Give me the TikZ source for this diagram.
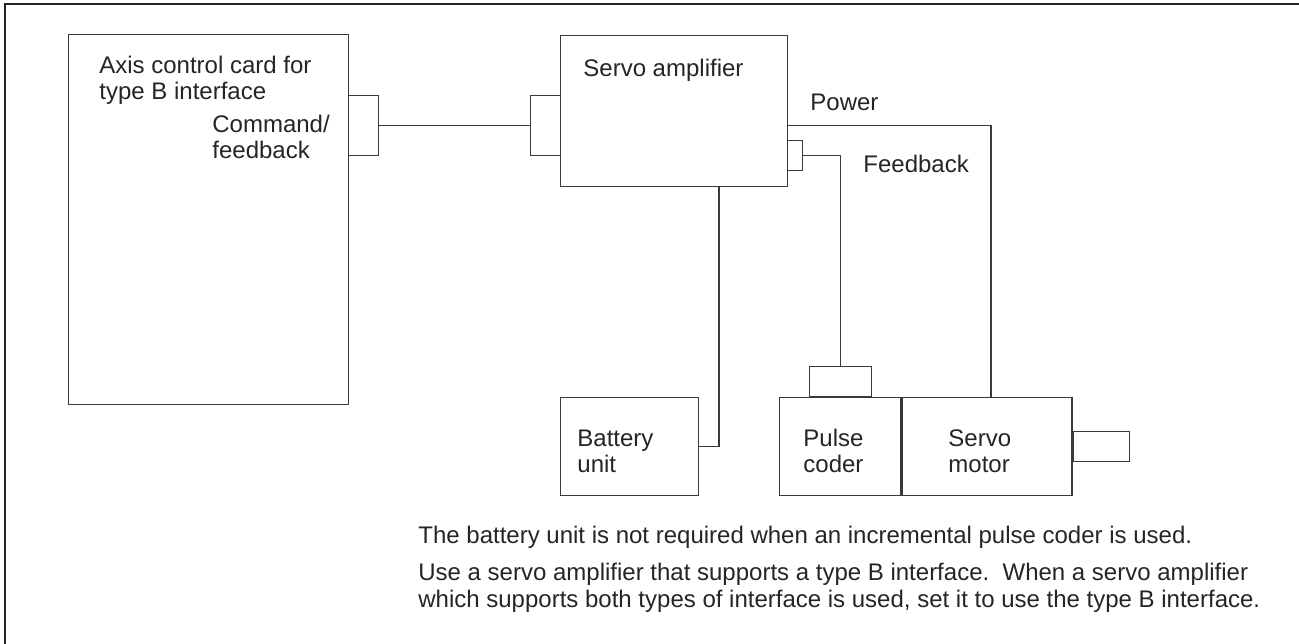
\documentclass[tikz,border=0pt]{standalone}
\usepackage{fontspec}
\setmainfont{Liberation Sans}
\usepackage{xcolor}
\usetikzlibrary{positioning}

\definecolor{inkgray}{HTML}{262425}
\definecolor{wiregray}{HTML}{3A3839}

\tikzset{
  unitbox/.style={draw=wiregray, line width=0.65pt, rectangle, inner sep=0pt},
  lbl/.style={anchor=base west, inner sep=0pt, align=left, text=inkgray,
    font=\fontsize{12}{13}\selectfont},
  note/.style={lbl, font=\fontsize{12}{13.5}\selectfont},
  wire/.style={draw=wiregray, line width=0.65pt},
}

\begin{document}
\begin{tikzpicture}[x=0.5pt, y=-0.5pt]
  \useasboundingbox (0,0) rectangle (1299,643);
  \draw[line width=1.3pt, inkgray] (5,650) -- (5,4) -- (1310,4); % outer frame

  % boxes
  \node[unitbox, anchor=north west, minimum width=140pt, minimum height=185pt] (card) at (68,34) {};
  \node[unitbox, anchor=north west, minimum width=15pt, minimum height=30pt] (cardconn) at (348,95) {};
  \node[unitbox, anchor=north west, minimum width=113.5pt, minimum height=75.5pt] (amp) at (560,35) {};
  \node[unitbox, anchor=north west, minimum width=15pt, minimum height=30pt] (ampconn) at (530,95) {};
  \node[unitbox, anchor=north west, minimum width=7.5pt, minimum height=15pt] (fbconn) at (787,140) {};
  \node[unitbox, anchor=north west, minimum width=69pt, minimum height=49pt] (batt) at (560,397) {};
  \node[unitbox, anchor=north west, minimum width=60.5pt, minimum height=49pt] (coder) at (779,397) {};
  \node[unitbox, minimum width=85pt, minimum height=49pt, right=0pt of coder] (motor) {};
  \node[unitbox, minimum width=31pt, minimum height=15pt, above=0pt of coder] (coderconn) {};
  \node[unitbox, minimum width=28pt, minimum height=15pt, right=0pt of motor] (shaft) {};

  \coordinate (battin) at (719,186);
  \coordinate (pwrin) at (991,397);

  % connections
  \draw[wire] (cardconn.east) -- (ampconn.west);
  \draw[wire] (amp.east |- ampconn.west) -| (pwrin); % power
  \draw[wire] (fbconn.east) -| (coderconn.north); % feedback
  \draw[wire] (batt.east) -| (battin);

  % labels
  \node[lbl] (cardtxt) at (99,99) {Axis control card for\\type B interface};
  \node[lbl] (cmdtxt) at (212,158) {Command/\\feedback};
  \node[lbl] (amptxt) at (583,76) {Servo amplifier};
  \node[lbl] (pwrtxt) at (810,110) {Power};
  \node[lbl] (fbtxt) at (863,172) {Feedback};
  \node[lbl] (batttxt) at (577,472) {Battery\\unit};
  \node[lbl] (codertxt) at (803,472) {Pulse\\coder};
  \node[lbl] (motortxt) at (948,472) {Servo\\motor};

  \node[note] (note1) at (418,543) {The battery unit is not required when an incremental pulse coder is used.};
  \node[note] (note2) at (418,607) {Use a servo amplifier that supports a type B interface.\ \ When a servo amplifier\\which supports both types of interface is used, set it to use the type B interface.};
\end{tikzpicture}
\end{document}
